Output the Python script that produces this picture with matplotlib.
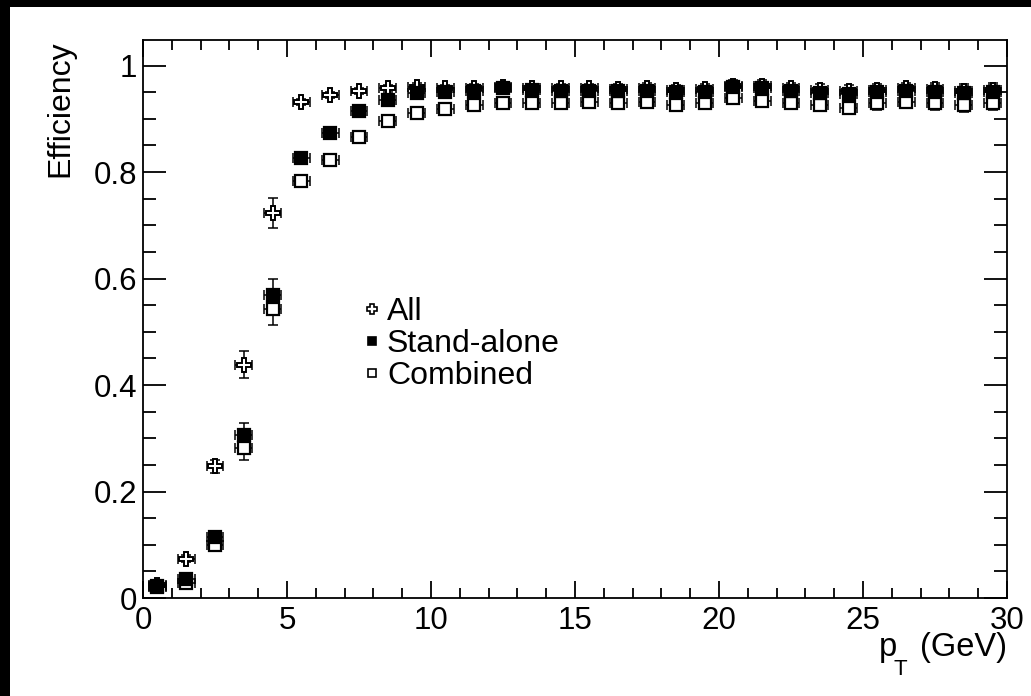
import numpy as np
import matplotlib.pyplot as plt
from matplotlib.lines import Line2D
from matplotlib.patches import Rectangle
from matplotlib.ticker import MultipleLocator

plt.rcParams['font.family'] = ['Liberation Sans', 'DejaVu Sans']

# muon reconstruction efficiency vs transverse momentum, 1 GeV bins
pt = np.arange(0.5, 30.0, 1.0)
pt_err = np.full(pt.shape, 0.29)

eff_all = [0.025, 0.074, 0.247, 0.438, 0.723, 0.932, 0.945, 0.952, 0.957, 0.960,
           0.957, 0.958, 0.960, 0.958, 0.957, 0.957, 0.956, 0.958, 0.955, 0.956,
           0.962, 0.962, 0.958, 0.955, 0.952, 0.955, 0.957, 0.956, 0.953, 0.955]
err_all = [0.005, 0.007, 0.012, 0.025, 0.028, 0.006, 0.006, 0.006, 0.006, 0.007,
           0.007, 0.007, 0.008, 0.008, 0.008, 0.008, 0.009, 0.009, 0.009, 0.009,
           0.010, 0.010, 0.010, 0.010, 0.011, 0.011, 0.011, 0.011, 0.012, 0.012]

eff_sa = [0.022, 0.035, 0.115, 0.307, 0.569, 0.827, 0.874, 0.915, 0.935, 0.948,
          0.951, 0.953, 0.957, 0.954, 0.953, 0.952, 0.952, 0.953, 0.950, 0.951,
          0.960, 0.958, 0.953, 0.949, 0.946, 0.950, 0.952, 0.951, 0.949, 0.951]
err_sa = [0.005, 0.006, 0.010, 0.022, 0.030, 0.007, 0.007, 0.007, 0.007, 0.007,
          0.007, 0.008, 0.008, 0.008, 0.008, 0.009, 0.009, 0.009, 0.009, 0.010,
          0.010, 0.010, 0.010, 0.011, 0.011, 0.011, 0.011, 0.012, 0.012, 0.012]

eff_comb = [0.020, 0.029, 0.099, 0.282, 0.543, 0.784, 0.823, 0.866, 0.895, 0.910,
            0.918, 0.926, 0.929, 0.930, 0.930, 0.931, 0.930, 0.931, 0.925, 0.930,
            0.940, 0.934, 0.930, 0.926, 0.921, 0.929, 0.932, 0.929, 0.926, 0.929]
err_comb = [0.005, 0.006, 0.010, 0.022, 0.031, 0.008, 0.008, 0.008, 0.008, 0.008,
            0.008, 0.008, 0.009, 0.009, 0.009, 0.009, 0.010, 0.010, 0.010, 0.010,
            0.011, 0.011, 0.011, 0.011, 0.012, 0.012, 0.012, 0.012, 0.013, 0.013]

labels = ['All', 'Stand-alone', 'Combined']
x_ticks = [0, 5, 10, 15, 20, 25, 30]
x_ticklabels = ['0', '5', '10', '15', '20', '25', '30']
y_ticks = [0, 0.2, 0.4, 0.6, 0.8, 1.0]
y_ticklabels = ['0', '0.2', '0.4', '0.6', '0.8', '1']

W, H = 1031, 696
fig = plt.figure(figsize=(W / 100, H / 100), dpi=100, facecolor='black')
fig.patches.append(Rectangle((10 / W, 0), 1 - 10 / W, 1 - 7 / H,
                             transform=fig.transFigure, facecolor='white',
                             edgecolor='none', zorder=-10))


def px(x, y):
    return x / W, 1 - y / H


ax = fig.add_axes([143 / W, (H - 598) / H, (1007 - 143) / W, (598 - 40) / H])

common = dict(fmt='none', ecolor='black', elinewidth=1.1, capsize=3.5, capthick=1.1)
ax.errorbar(pt, eff_all, yerr=err_all, xerr=pt_err, zorder=2, **common)
ax.errorbar(pt, eff_comb, yerr=err_comb, xerr=pt_err, zorder=3, **common)
ax.errorbar(pt, eff_sa, yerr=err_sa, xerr=pt_err, zorder=4, **common)

ax.plot(pt, eff_all, 'P', ms=9.5, mfc='white', mec='black', mew=1.4, ls='none', zorder=5)
ax.plot(pt, eff_comb, 's', ms=8, mfc='white', mec='black', mew=1.6, ls='none', zorder=6)
ax.plot(pt, eff_sa, 's', ms=8, mfc='black', mec='black', mew=1.6, ls='none', zorder=7)

ax.set_xlim(0, 30)
ax.set_ylim(0, 1.048)
ax.set_xticks(x_ticks)
ax.set_xticklabels(x_ticklabels)
ax.set_yticks(y_ticks)
ax.set_yticklabels(y_ticklabels)
ax.xaxis.set_minor_locator(MultipleLocator(1))
ax.yaxis.set_minor_locator(MultipleLocator(0.05))

for s in ax.spines.values():
    s.set_linewidth(1.3)
ax.tick_params(which='both', direction='in', top=True, right=True,
               width=1.3, labelsize=22.5, colors='black')
ax.tick_params(axis='x', which='major', length=12.2, pad=6)
ax.tick_params(axis='x', which='minor', length=7.2)
ax.tick_params(axis='y', which='major', length=16.6, pad=4)
ax.tick_params(axis='y', which='minor', length=9.4)

handles = [
    Line2D([], [], marker='P', ms=7, mfc='white', mec='black', mew=1.2, ls='none'),
    Line2D([], [], marker='s', ms=6, mfc='black', mec='black', mew=1.2, ls='none'),
    Line2D([], [], marker='s', ms=6, mfc='white', mec='black', mew=1.2, ls='none'),
]
ax.legend(handles, labels, loc='upper left',
          bbox_to_anchor=((363 - 143) / 864, (598 - 297) / 558),
          frameon=False, fontsize=23, handlelength=0.55, handletextpad=0.2,
          labelspacing=0.06, borderpad=0, borderaxespad=0)

# axis titles, placed the ROOT way at the axis ends
fig.text(*px(60, 40), 'Efficiency', rotation=90, ha='center', va='top', fontsize=23)
fig.text(*px(1007, 656), '(GeV)', ha='right', va='baseline', fontsize=23.5)
fig.text(*px(879, 656), 'p', ha='left', va='baseline', fontsize=23.5)
fig.text(*px(900, 659), 'T', ha='center', va='top', fontsize=16)

fig.savefig('out.png', dpi=100, facecolor=fig.get_facecolor())
